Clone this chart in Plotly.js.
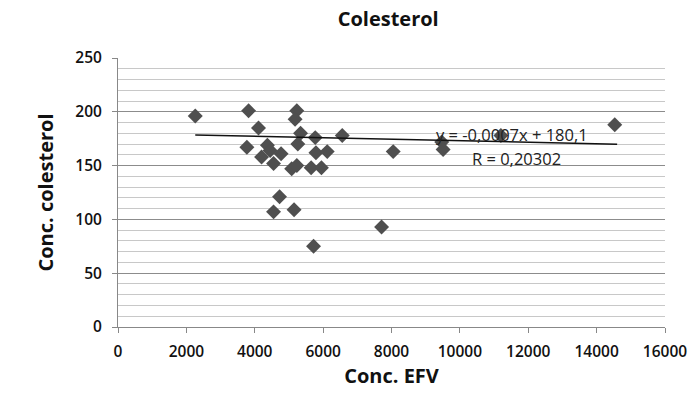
<!DOCTYPE html>
<html>
<head>
<meta charset="utf-8">
<script src="https://cdn.plot.ly/plotly-3.0.1.min.js"></script>
<style>html,body{margin:0;padding:0;background:#fff}#chart{width:692px;height:397px}</style>
</head>
<body>
<div id="chart"></div>
<script>
const efv = [2260, 3820, 5230, 5180, 4110, 5340, 5770, 6560, 3770, 4370, 4450, 5260, 4770, 4200, 4550, 5790, 6120, 5080, 5230, 5650, 5950, 8050, 9470, 9510, 11200, 14530, 4725, 4550, 5150, 7710, 5720];
const colesterol = [196, 201, 201, 193, 185, 180, 176, 178, 167, 169, 164, 170, 161, 158, 152, 162, 163, 147, 150, 148, 148, 163, 172, 165, 178, 188, 121, 107, 109, 93, 75];
const trendRange = [2260, 14600];
const slope = -0.0007, intercept = 180.1;
const eqLabel = "y = -0,0007x + 180,1";
const rLabel = "R = 0,20302";
const xTicks = [0, 2000, 4000, 6000, 8000, 10000, 12000, 14000, 16000];
const yTicks = [0, 50, 100, 150, 200, 250];

const trendY = trendRange.map(x => slope * x + intercept);

const fontFam = "'Open Sans', 'Noto Sans', sans-serif";
const data = [
  {x: efv, y: colesterol, type: 'scatter', mode: 'markers',
   marker: {symbol: 'diamond', size: 11.5, color: '#4f4f4f'}, hoverinfo: 'x+y'},
  {x: trendRange, y: trendY, type: 'scatter', mode: 'lines',
   line: {color: '#111', width: 1.5}, hoverinfo: 'skip'}
];
const layout = {
  width: 692, height: 397,
  margin: {l: 117.5, r: 27, t: 58, b: 70},
  showlegend: false,
  paper_bgcolor: '#fff', plot_bgcolor: '#fff',
  title: {text: 'Colesterol', x: 0.561, xanchor: 'center', y: 0.952, yanchor: 'middle',
          font: {family: fontFam, size: 20, color: '#111', weight: 700}},
  xaxis: {
    range: [0, 16000], tickvals: xTicks, ticktext: xTicks.map(String),
    showgrid: false, zeroline: false, showline: true, linecolor: '#888', linewidth: 1,
    ticks: 'outside', ticklen: 5, tickcolor: '#888', ticklabelstandoff: 5,
    tickfont: {family: fontFam, size: 15.5, color: '#111', weight: 600},
    title: {text: 'Conc. EFV', standoff: 8, font: {family: fontFam, size: 20, color: '#111', weight: 700}}
  },
  yaxis: {
    range: [0, 250], tickvals: yTicks, ticktext: yTicks.map(String),
    showgrid: true, gridcolor: '#8c8c8c', gridwidth: 1,
    minor: {dtick: 10, showgrid: true, gridcolor: '#c8c8c8', gridwidth: 1, ticks: ''},
    zeroline: false, showline: true, linecolor: '#888', linewidth: 1,
    ticks: 'outside', ticklen: 5, tickcolor: '#888', ticklabelstandoff: 7,
    tickfont: {family: fontFam, size: 15.5, color: '#111', weight: 600},
    title: {text: 'Conc. colesterol', standoff: 16, font: {family: fontFam, size: 20, color: '#111', weight: 700}}
  },
  annotations: [
    {x: 9240, y: 178.5, xref: 'x', yref: 'y', text: eqLabel, showarrow: false, xanchor: 'left', yanchor: 'middle',
     font: {family: fontFam, size: 16.5, color: '#222'}},
    {x: 10290, y: 157, xref: 'x', yref: 'y', text: rLabel, showarrow: false, xanchor: 'left', yanchor: 'middle',
     font: {family: fontFam, size: 16.5, color: '#222'}}
  ]
};
Plotly.newPlot('chart', data, layout, {displayModeBar: false, staticPlot: true});
</script>
</body>
</html>
